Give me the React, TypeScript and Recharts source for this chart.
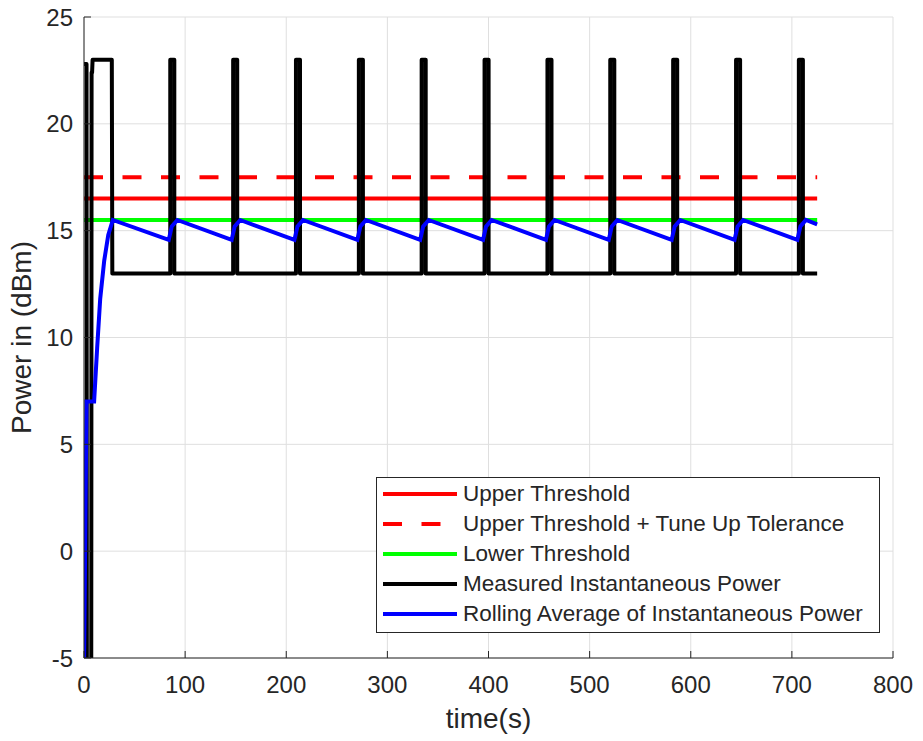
import React from "react";
import { LineChart, Line, XAxis, YAxis, CartesianGrid, Legend } from "recharts";

const INK = "#262626";
const FONT = "'Liberation Sans', Arial, Helvetica, sans-serif";

// axes
const timeTicks = [0, 100, 200, 300, 400, 500, 600, 700, 800];
const powerTicks = [-5, 0, 5, 10, 15, 20, 25];

// thresholds (dBm)
const thresholdTime = [0, 725];
const upperThreshold = [16.5, 16.5];
const upperTolerance = [17.5, 17.5];
const lowerThreshold = [15.5, 15.5];

// measured instantaneous power - start-up part
const startTime = [0, 2.5, 3, 7, 7.5, 8, 8.5, 27.5, 28];
const startPower = [22.8, 22.8, -20, -20, 22.4, 22.4, 23, 23, 13];
// periodic bursts
const burstStart = [85.3, 147.5, 209.6, 271.8, 333.9, 396.1, 458.3, 520.4, 582.6, 644.8, 706.9];
const burstEnd = [89.3, 151.5, 213.6, 275.8, 337.9, 400.1, 462.3, 524.4, 586.6, 648.8, 710.9];
const burstLevel = 23;
const idleLevel = 13;
const endTime = 725;

// rolling average of instantaneous power
const avgTime = [
  0, 2.5, 10, 13, 16, 20, 24, 28.5,
  83.8, 86.8, 92.3,
  146.0, 149.0, 154.5,
  208.1, 211.1, 216.6,
  270.3, 273.3, 278.8,
  332.4, 335.4, 340.9,
  394.6, 397.6, 403.1,
  456.8, 459.8, 465.3,
  518.9, 521.9, 527.4,
  581.1, 584.1, 589.6,
  643.3, 646.3, 651.8,
  705.4, 708.4, 713.9,
  725,
];
const avgPower = [
  -5.5, 7.0, 7.0, 9.5, 11.8, 13.6, 14.8, 15.5,
  14.57, 15.2, 15.5,
  14.57, 15.2, 15.5,
  14.57, 15.2, 15.5,
  14.57, 15.2, 15.5,
  14.57, 15.2, 15.5,
  14.57, 15.2, 15.5,
  14.57, 15.2, 15.5,
  14.57, 15.2, 15.5,
  14.57, 15.2, 15.5,
  14.57, 15.2, 15.5,
  14.57, 15.2, 15.5,
  15.3,
];

const legendOrder = [
  "Upper Threshold",
  "Upper Threshold + Tune Up Tolerance",
  "Lower Threshold",
  "Measured Instantaneous Power",
  "Rolling Average of Instantaneous Power",
];

const zip = (t: number[], p: number[]) => t.map((x, i) => ({ t: x, p: p[i] }));

const upperData = zip(thresholdTime, upperThreshold);
const toleranceData = zip(thresholdTime, upperTolerance);
const lowerData = zip(thresholdTime, lowerThreshold);
const measuredData = [
  ...zip(startTime, startPower),
  ...burstStart.flatMap((s, i) => [
    { t: s, p: idleLevel },
    { t: s, p: burstLevel },
    { t: burstEnd[i], p: burstLevel },
    { t: burstEnd[i], p: idleLevel },
  ]),
  { t: endTime, p: idleLevel },
];
const averageData = zip(avgTime, avgPower);

const tickStyle = { fill: INK, fontSize: 24, fontFamily: FONT };

const XTitle = ({ viewBox }: any) => (
  <text
    x={viewBox.x + viewBox.width / 2}
    y={viewBox.y + 70}
    textAnchor="middle"
    fill={INK}
    fontSize={28}
    fontFamily={FONT}
  >
    time(s)
  </text>
);

const YTitle = ({ viewBox }: any) => {
  const cx = viewBox.x + 30.5;
  const cy = viewBox.y + viewBox.height / 2;
  return (
    <text
      x={cx}
      y={cy}
      transform={`rotate(-90 ${cx} ${cy})`}
      textAnchor="middle"
      fill={INK}
      fontSize={28}
      fontFamily={FONT}
    >
      Power in (dBm)
    </text>
  );
};

const LegendBox = ({ payload }: any) => {
  const items = legendOrder
    .map((name) => (payload || []).find((p: any) => p.value === name))
    .filter(Boolean);
  return (
    <div
      style={{
        boxSizing: "border-box",
        width: 504,
        height: 156,
        border: `1px solid ${INK}`,
        background: "#fff",
        padding: "1px 0 4px 0",
        fontFamily: FONT,
        fontSize: 22.5,
        color: INK,
      }}
    >
      {items.map((entry: any) => (
        <div
          key={entry.value}
          style={{ display: "flex", alignItems: "center", height: 30, whiteSpace: "nowrap" }}
        >
          <svg width={86} height={10} style={{ flex: "none" }}>
            <line
              x1={6}
              y1={5}
              x2={80}
              y2={5}
              stroke={entry.color}
              strokeWidth={4}
              strokeDasharray={entry.payload?.strokeDasharray}
            />
          </svg>
          <span>{entry.value}</span>
        </div>
      ))}
    </div>
  );
};

export default function App() {
  return (
    <div style={{ position: "absolute", left: 0, top: 0, background: "#fff" }}>
      <LineChart
        width={923}
        height={741}
        margin={{ top: 17, right: 30, bottom: 0, left: 0 }}
      >
        <CartesianGrid stroke="#dfdfdf" strokeWidth={1} />
        <XAxis
          dataKey="t"
          type="number"
          domain={[0, 800]}
          ticks={timeTicks}
          allowDataOverflow
          height={83}
          stroke={INK}
          tickSize={-7}
          tickMargin={25}
          tick={tickStyle}
          label={<XTitle />}
        />
        <XAxis
          xAxisId="top"
          orientation="top"
          type="number"
          domain={[0, 800]}
          ticks={timeTicks}
          allowDataOverflow
          height={0}
          stroke={INK}
          tickSize={-7}
          tick={false}
        />
        <YAxis
          type="number"
          domain={[-5, 25]}
          ticks={powerTicks}
          allowDataOverflow
          width={84}
          stroke={INK}
          tickSize={-7}
          tickMargin={18}
          tick={tickStyle}
          label={<YTitle />}
        />
        <YAxis
          yAxisId="right"
          orientation="right"
          type="number"
          domain={[-5, 25]}
          ticks={powerTicks}
          allowDataOverflow
          width={0}
          stroke={INK}
          tickSize={-7}
          tick={false}
        />
        <Legend
          layout="vertical"
          align="center"
          verticalAlign="middle"
          content={<LegendBox />}
          wrapperStyle={{ position: "absolute", left: 376, top: 477, width: 504, height: 156 }}
        />
        <Line
          data={upperData}
          dataKey="p"
          name="Upper Threshold"
          stroke="#ff0000"
          strokeWidth={4}
          type="linear"
          dot={false}
          activeDot={false}
          isAnimationActive={false}
        />
        <Line
          data={toleranceData}
          dataKey="p"
          name="Upper Threshold + Tune Up Tolerance"
          stroke="#ff0000"
          strokeWidth={4}
          strokeDasharray="19 19.5"
          type="linear"
          dot={false}
          activeDot={false}
          isAnimationActive={false}
        />
        <Line
          data={lowerData}
          dataKey="p"
          name="Lower Threshold"
          stroke="#00ff00"
          strokeWidth={4}
          type="linear"
          dot={false}
          activeDot={false}
          isAnimationActive={false}
        />
        <Line
          data={measuredData}
          dataKey="p"
          name="Measured Instantaneous Power"
          stroke="#000000"
          strokeWidth={4}
          strokeLinejoin="round"
          type="linear"
          dot={false}
          activeDot={false}
          isAnimationActive={false}
        />
        <Line
          data={averageData}
          dataKey="p"
          name="Rolling Average of Instantaneous Power"
          stroke="#0000ff"
          strokeWidth={4}
          type="linear"
          dot={false}
          activeDot={false}
          isAnimationActive={false}
        />
      </LineChart>
    </div>
  );
}
